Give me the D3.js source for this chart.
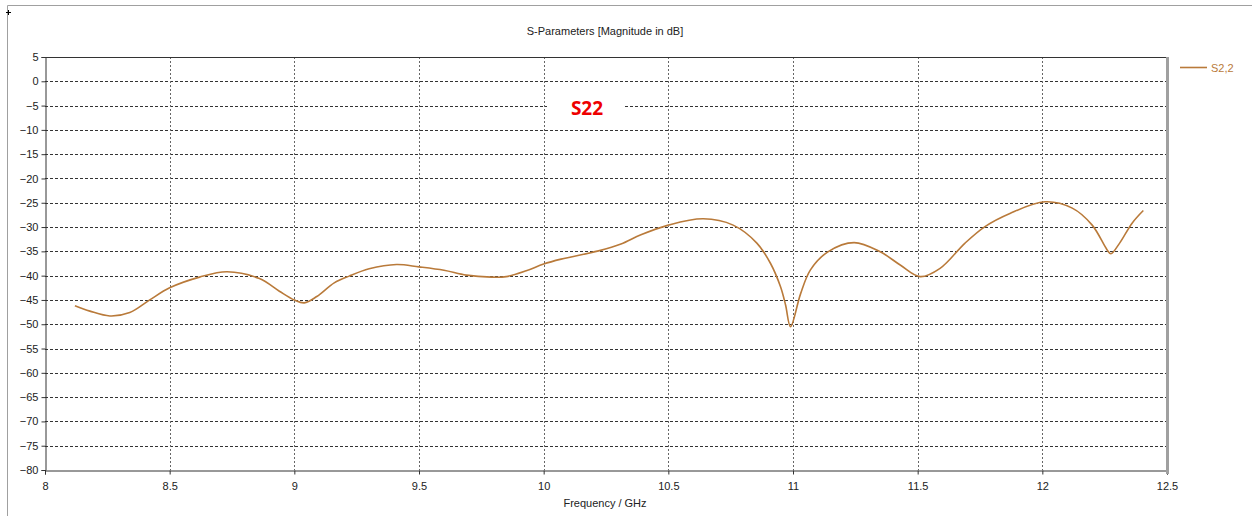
<!DOCTYPE html>
<html>
<head>
<meta charset="utf-8">
<script src="https://cdn.jsdelivr.net/npm/d3@7"></script>
<style>
  body { margin: 0; background: #fff; }
  svg { display: block; font-family: Tahoma, "Liberation Sans", "DejaVu Sans", sans-serif; }
</style>
</head>
<body>
<svg id="chart" width="1252" height="516"></svg>
<script>
// S2,2 magnitude
var freq = [8.12, 8.18, 8.26, 8.34, 8.42, 8.5, 8.62, 8.73, 8.86, 8.94, 9.0, 9.04, 9.09, 9.16, 9.22,
    9.30, 9.41, 9.5, 9.6, 9.69, 9.79, 9.85, 9.93, 10.0, 10.07, 10.22, 10.31, 10.39, 10.5, 10.64,
    10.76, 10.855, 10.91, 10.95, 10.97, 10.99, 11.03, 11.07, 11.14, 11.245, 11.35, 11.43, 11.51,
    11.59, 11.69, 11.77, 11.87, 12.01, 12.12, 12.2, 12.26, 12.275, 12.31, 12.36, 12.405];
var s22 = [-46.2, -47.3, -48.3, -47.6, -45.0, -42.5, -40.3, -39.2, -40.6, -43.2, -45.0, -45.6, -44.3, -41.5, -40.1,
    -38.6, -37.7, -38.2, -38.9, -39.9, -40.3, -40.2, -39.0, -37.6, -36.6, -34.9, -33.5, -31.6, -29.6, -28.3,
    -29.6, -33.3, -37.5, -42.3, -46.0, -50.5, -43.8, -38.8, -35.1, -33.2, -35.1, -37.8, -40.2,
    -38.5, -33.3, -29.9, -27.2, -24.8, -26.1, -29.6, -34.7, -35.5, -33.3, -29.2, -26.6];
var xTicks = [8, 8.5, 9, 9.5, 10, 10.5, 11, 11.5, 12, 12.5];
var yTicks = [5, 0, -5, -10, -15, -20, -25, -30, -35, -40, -45, -50, -55, -60, -65, -70, -75, -80];

var svg = d3.select("#chart");
var plotLeft = 45, plotRight = 1167, plotTop = 57, plotBottom = 470;
var lineColor = "#b97a3a";

var x = d3.scaleLinear().domain([8, 12.5]).range([plotLeft, plotRight]);
var y = d3.scaleLinear().domain([-80, 5]).range([plotBottom, plotTop]);

// outer frame
svg.append("line").attr("x1", 7.5).attr("x2", 1252).attr("y1", 5.5).attr("y2", 5.5)
    .attr("stroke", "#a0a0a0").attr("stroke-width", 1);
svg.append("line").attr("x1", 7.5).attr("x2", 7.5).attr("y1", 5.5).attr("y2", 516)
    .attr("stroke", "#a0a0a0").attr("stroke-width", 1);
svg.append("path").attr("d", "M6,12.5H11M8.5,10V15").attr("stroke", "#000").attr("stroke-width", 1);

// grid
svg.append("g").selectAll("line")
    .data(yTicks.filter(function (d) { return d !== 5 && d !== -80; }))
    .enter().append("line")
    .attr("x1", plotLeft).attr("x2", plotRight)
    .attr("y1", function (d) { return Math.round(y(d)) + 0.5; })
    .attr("y2", function (d) { return Math.round(y(d)) + 0.5; })
    .attr("stroke", "#333").attr("stroke-dasharray", "3,2");
svg.append("g").selectAll("line")
    .data(xTicks.filter(function (d) { return d !== 8 && d !== 12.5; }))
    .enter().append("line")
    .attr("x1", function (d) { return Math.round(x(d)) + 0.5; })
    .attr("x2", function (d) { return Math.round(x(d)) + 0.5; })
    .attr("y1", plotTop).attr("y2", plotBottom)
    .attr("stroke", "#666").attr("stroke-dasharray", "2,2");

// axes
var yAxis = svg.append("g").attr("transform", "translate(" + (plotLeft + 0.5) + ",0)")
    .call(d3.axisLeft(y).tickValues(yTicks).tickSize(4).tickFormat(d3.format("d")));
var xAxis = svg.append("g").attr("transform", "translate(0," + (plotBottom + 0.5) + ")")
    .call(d3.axisBottom(x).tickValues(xTicks).tickSize(4).tickPadding(8).tickFormat(function (d) { return String(d); }));
[yAxis, xAxis].forEach(function (a) {
    a.select(".domain").attr("stroke", "#333");
    a.selectAll(".tick line").attr("stroke", "#333");
    a.selectAll("text").attr("fill", "#222").style("font-size", "11px")
        .style("font-family", "Tahoma, 'Liberation Sans', sans-serif");
});
yAxis.selectAll("text").attr("x", -7);

// top and right border
svg.append("line").attr("x1", plotLeft).attr("x2", plotRight).attr("y1", plotTop + 0.5).attr("y2", plotTop + 0.5)
    .attr("stroke", "#333");
svg.append("line").attr("x1", plotRight + 0.5).attr("x2", plotRight + 0.5).attr("y1", plotTop).attr("y2", plotBottom + 4)
    .attr("stroke", "#a0a0a0").attr("stroke-width", 3);

// label box
svg.append("rect").attr("x", 547).attr("y", 95).attr("width", 78).attr("height", 23).attr("fill", "#fff");
svg.append("text").attr("x", 587).attr("y", 115).attr("text-anchor", "middle")
    .attr("fill", "#ee0000").style("font-size", "19px").style("font-weight", "bold")
    .style("font-family", "'Open Sans', 'DejaVu Sans', sans-serif")
    .text("S22");

// curve
var line = d3.line()
    .x(function (d, i) { return x(freq[i]); })
    .y(function (d) { return y(d); })
    .curve(d3.curveCatmullRom.alpha(0.5));
svg.append("path").datum(s22)
    .attr("d", line)
    .attr("fill", "none").attr("stroke", lineColor).attr("stroke-width", 1.6);

// titles
svg.append("text").attr("x", 605).attr("y", 35).attr("text-anchor", "middle")
    .style("font-size", "11px").attr("fill", "#222").text("S-Parameters [Magnitude in dB]");
svg.append("text").attr("x", 605).attr("y", 507).attr("text-anchor", "middle")
    .style("font-size", "11px").attr("fill", "#222").text("Frequency / GHz");

// legend
svg.append("line").attr("x1", 1180).attr("x2", 1207).attr("y1", 67.5).attr("y2", 67.5)
    .attr("stroke", lineColor).attr("stroke-width", 1.6);
svg.append("text").attr("x", 1211).attr("y", 71.5).style("font-size", "11px")
    .attr("fill", lineColor).text("S2,2");
</script>
</body>
</html>
